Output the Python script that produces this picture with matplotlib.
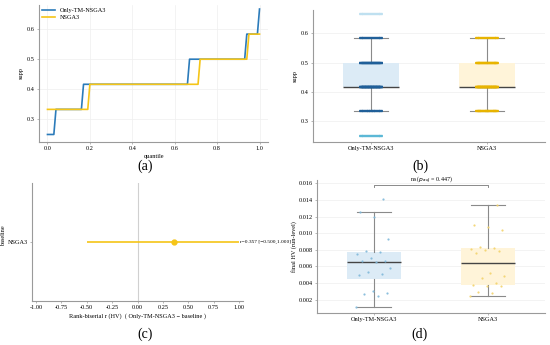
import matplotlib

matplotlib.use("Agg")
import matplotlib.pyplot as plt
import numpy as np

plt.rcParams["font.family"] = ["Liberation Serif", "DejaVu Serif"]

# --- data -----------------------------------------------------------------
methods = ["Only-TM-NSGA3", "NSGA3"]
colors = ["#2B7BBA", "#F5C518"]
point_colors = ["#1F5F99", "#E8B400"]
box_fills = ["#DCEBF6", "#FFF4D9"]

# supp levels (multiples of 1/12) and how many runs hit each level
supp_levels = [0.25, 1 / 3, 5 / 12, 0.5, 7 / 12, 2 / 3]
supp_counts_tm = [3, 13, 50, 27, 6, 1]
supp_counts_nsga3 = [0, 19, 52, 23, 6, 0]

# rank-biserial effect size vs. baseline
effect_baselines = ["NSGA3"]
effect_r = [0.357]
effect_lo = [-0.500]
effect_hi = [1.000]

# final HV per run
hv_tm = [0.00115, 0.0024, 0.0027, 0.0028, 0.0031, 0.0050, 0.0051, 0.0053, 0.0058, 0.0065,
         0.0066, 0.0067, 0.0070, 0.0075, 0.0077, 0.0078, 0.0093, 0.0120, 0.0125, 0.0141]
hv_nsga3 = [0.0024, 0.0028, 0.0029, 0.0036, 0.0037, 0.0038, 0.0040, 0.0046, 0.0049, 0.0052,
            0.0076, 0.0078, 0.0080, 0.0081, 0.0082, 0.0083, 0.0104, 0.0107, 0.0110, 0.0134]
hv_p_adj = 0.447

FS = 4.5
GRID = "#EFEFEF"
SPINE = "#9A9A9A"


def _style(ax, xgrid=False):
    for s in ("top", "right"):
        ax.spines[s].set_visible(False)
    for s in ("left", "bottom"):
        ax.spines[s].set_color(SPINE)
        ax.spines[s].set_linewidth(0.8)
    ax.tick_params(labelsize=FS, length=1.5, width=0.5, color=SPINE, pad=1.5)
    ax.grid(axis="y", color=GRID, linewidth=0.5)
    if xgrid:
        ax.grid(axis="x", color=GRID, linewidth=0.5)
    ax.set_axisbelow(True)


def _expand(levels, counts):
    return np.repeat(np.array(levels), counts)


def _axes(fig, x0, y0, x1, y1):
    W, H = 550, 345
    return fig.add_axes([x0 / W, 1 - y1 / H, (x1 - x0) / W, (y1 - y0) / H])


def _boxes(ax, samples, width=0.48):
    ax.boxplot(samples, positions=range(len(samples)), widths=width, patch_artist=True,
               showfliers=False,
               boxprops=dict(linewidth=0),
               medianprops=dict(color="#444444", linewidth=1.0),
               whiskerprops=dict(color="#8A8A8A", linewidth=0.8),
               capprops=dict(color="#8A8A8A", linewidth=0.8),
               capwidths=0.3)
    for patch, fc in zip(ax.patches, box_fills):
        patch.set_facecolor(fc)


fig = plt.figure(figsize=(5.5, 3.45), dpi=100)

# --- (a) quantile curves ----------------------------------------------------
ax = _axes(fig, 39, 5, 268, 142)
q = np.linspace(0, 1, 101)
samples_supp = [_expand(supp_levels, supp_counts_tm), _expand(supp_levels, supp_counts_nsga3)]
for s, c, name in zip(samples_supp, colors, methods):
    ax.plot(q, np.quantile(s, q, method="inverted_cdf"), color=c, lw=1.2, label=name)
ax.set_xlim(-0.04, 1.04)
ax.set_ylim(0.225, 0.68)
ax.set_xticks([0, 0.2, 0.4, 0.6, 0.8, 1.0])
ax.set_yticks([0.3, 0.4, 0.5, 0.6])
ax.set_xlabel("quantile", fontsize=FS, labelpad=2)
ax.set_ylabel("supp", fontsize=FS, labelpad=2)
_style(ax, xgrid=True)
ax.legend(loc="upper left", fontsize=FS, frameon=False, handlelength=2.2,
          borderaxespad=0.0, labelspacing=0.3)

# --- (b) supp boxplot -------------------------------------------------------
ax = _axes(fig, 313, 10, 545, 142)
_boxes(ax, samples_supp)
for i, (counts, pc) in enumerate(zip([supp_counts_tm, supp_counts_nsga3], point_colors)):
    s = _expand(supp_levels, counts)
    q1, q3 = np.percentile(s, [25, 75])
    lo, hi = q1 - 1.5 * (q3 - q1), q3 + 1.5 * (q3 - q1)
    for lvl, n in zip(supp_levels, counts):
        if n == 0:
            continue
        out = lvl < lo or lvl > hi
        col = "#5BB8D6" if (out and lvl < lo) else ("#BFE0F0" if out else pc)
        offs = np.linspace(-0.09, 0.09, max(n, 12))
        ax.scatter(i + offs, np.full(len(offs), lvl), s=12, marker="_",
                   color=col, alpha=0.9, linewidths=1.6, zorder=3)
ax.set_xlim(-0.5, 1.5)
ax.set_ylim(0.228, 0.68)
ax.set_yticks([0.3, 0.4, 0.5, 0.6])
ax.set_xticks([0, 1])
ax.set_xticklabels(methods)
ax.set_ylabel("supp", fontsize=FS, labelpad=2)
_style(ax)

# --- (c) effect size --------------------------------------------------------
ax = _axes(fig, 32, 183, 243, 301)
ypos = np.arange(len(effect_baselines))
r = np.array(effect_r)
ax.axvline(0, color="#D0D0D0", lw=0.8, zorder=0)
ax.errorbar(r, ypos, xerr=[r - np.array(effect_lo), np.array(effect_hi) - r], fmt="o",
            color=colors[1], ms=3.5, lw=1.2, capsize=0)
for y, rv, lo, hi in zip(ypos, effect_r, effect_lo, effect_hi):
    ax.text(hi + 0.01, y, f"r={rv:.3f} [\u2212{abs(lo):.3f},{hi:.3f}]", fontsize=3.9,
            va="center", ha="left", clip_on=False)
ax.set_xlim(-1.04, 1.04)
ax.set_ylim(-0.6, 0.6)
ticks_c = [-1.0, -0.75, -0.5, -0.25, 0.0, 0.25, 0.5, 0.75, 1.0]
ax.set_xticks(ticks_c)
ax.set_xticklabels([f"{v:.2f}" for v in ticks_c])
ax.set_yticks(ypos)
ax.set_yticklabels(effect_baselines)
ax.set_xlabel("Rank-biserial r (HV)  ( Only-TM-NSGA3 \u2212 baseline )", fontsize=FS, labelpad=2)
ax.set_ylabel("baseline", fontsize=FS)
ax.yaxis.set_label_coords(-0.125, 0.55)
_style(ax)
ax.grid(False)

# --- (d) final HV boxplot ---------------------------------------------------
ax = _axes(fig, 317, 180, 545, 313)
samples_hv = [np.array(hv_tm), np.array(hv_nsga3)]
_boxes(ax, samples_hv)
pt_cols = ["#7FB8DA", "#F3D36B"]
for i, (s, pc) in enumerate(zip(samples_hv, pt_cols)):
    k = np.arange(len(s))
    offs = ((k * 0.618034) % 1.0 - 0.5) * 0.32
    ax.scatter(i + offs, s, s=2.5, color=pc, alpha=0.9, linewidths=0, zorder=3)
top = 0.0158
ax.plot([0, 0, 1, 1], [top - 0.0003, top, top, top - 0.0003], color="#777777", lw=0.6)
ax.text(0.5, top + 0.00005, f"ns ($p_{{adj}}$ = {hv_p_adj:.3f})", fontsize=4.3,
        ha="center", va="bottom")
ax.set_xlim(-0.5, 1.5)
ax.set_ylim(0.0004, 0.0164)
ticks_d = [0.002, 0.004, 0.006, 0.008, 0.010, 0.012, 0.014, 0.016]
ax.set_yticks(ticks_d)
ax.set_yticklabels([f"{v:.3f}" for v in ticks_d])
ax.set_xticks([0, 1])
ax.set_xticklabels(methods)
ax.set_ylabel("final HV (run-level)", fontsize=FS)
ax.yaxis.set_label_coords(-0.088, 0.5)
_style(ax)

# --- panel letters ----------------------------------------------------------
for label, (x, y) in zip(["(a)", "(b)", "(c)", "(d)"],
                         [(145, 166), (420, 166), (145, 334), (420, 334)]):
    fig.text(x / 550, 1 - y / 345, label, fontsize=10, ha="center", va="center")

fig.savefig("out.png", dpi=100)
